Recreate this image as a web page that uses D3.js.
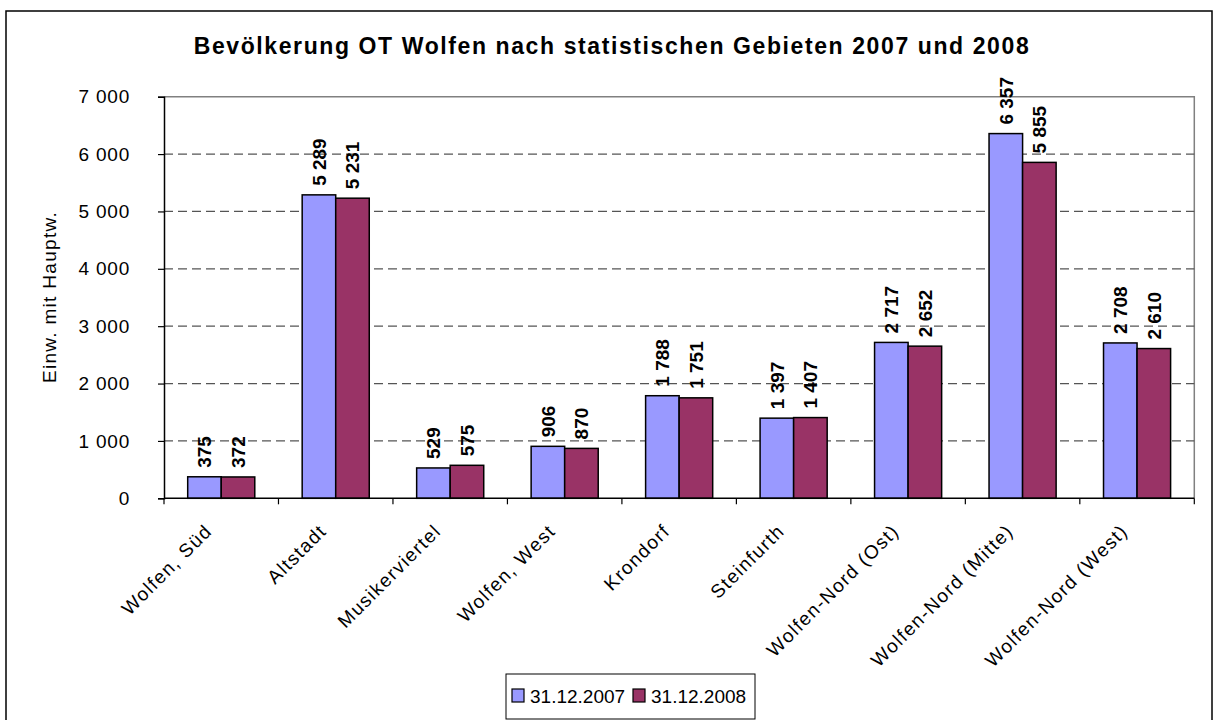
<!DOCTYPE html>
<html>
<head>
<meta charset="utf-8">
<script src="https://cdn.jsdelivr.net/npm/d3@7"></script>
<style>
  body { margin: 0; background: #fff; }
  svg { display: block; font-family: "Liberation Sans", Arial, sans-serif; }
</style>
</head>
<body>
<div id="chart"></div>
<script>
// data
var categories = ["Wolfen, Süd", "Altstadt", "Musikerviertel", "Wolfen, West", "Krondorf",
  "Steinfurth", "Wolfen-Nord (Ost)", "Wolfen-Nord (Mitte)", "Wolfen-Nord (West)"];
var seriesNames = ["31.12.2007", "31.12.2008"];
var values2007 = [375, 5289, 529, 906, 1788, 1397, 2717, 6357, 2708];
var values2008 = [372, 5231, 575, 870, 1751, 1407, 2652, 5855, 2610];
var yTicks = [0, 1000, 2000, 3000, 4000, 5000, 6000, 7000];
var title = "Bevölkerung OT Wolfen nach statistischen Gebieten 2007 und 2008";
var yTitle = "Einw. mit Hauptw.";

function drawChart() {
  var colors = ["#9999ff", "#993366"];
  var series = [values2007, values2008];

  var width = 1218, height = 720;
  var plotLeft = 164, plotRight = 1194.3, plotTop = 96.7, plotBottom = 498.3;

  var fmt = d3.formatLocale({decimal: ",", thousands: " ", grouping: [3], currency: ["", ""]}).format(",d");

  var svg = d3.select("#chart").append("svg")
    .attr("width", width)
    .attr("height", height);

  // outer frame
  svg.append("rect")
    .attr("x", 6).attr("y", 11)
    .attr("width", 1206).attr("height", 730)
    .attr("fill", "#fff")
    .attr("stroke", "#000")
    .attr("stroke-width", 1.5);

  var x0 = d3.scaleBand().domain(categories).range([plotLeft, plotRight]);
  var pad = 23.7;
  var x1 = d3.scaleBand().domain([0, 1]).range([pad, x0.bandwidth() - pad]);
  var y = d3.scaleLinear().domain([0, 7000]).range([plotBottom, plotTop]);

  // plot border (top/right) in gray
  svg.append("path")
    .attr("d", "M" + plotLeft + "," + y(7000) + "H" + plotRight + "V" + plotBottom)
    .attr("fill", "none")
    .attr("stroke", "#808080")
    .attr("stroke-width", 1.5);

  // gridlines
  svg.append("g")
    .selectAll("line")
    .data(yTicks.filter(function(d) { return d > 0 && d < 7000; }))
    .join("line")
    .attr("x1", plotLeft).attr("x2", plotRight)
    .attr("y1", function(d) { return y(d); })
    .attr("y2", function(d) { return y(d); })
    .attr("stroke", "#555")
    .attr("stroke-width", 1.2)
    .attr("stroke-dasharray", "9,5");

  // bars
  var groups = svg.append("g").selectAll("g")
    .data(categories)
    .join("g")
    .attr("transform", function(d) { return "translate(" + x0(d) + ",0)"; });

  groups.selectAll("rect")
    .data(function(d, i) { return series.map(function(s, k) { return {k: k, v: s[i]}; }); })
    .join("rect")
    .attr("x", function(d) { return x1(d.k); })
    .attr("y", function(d) { return y(d.v); })
    .attr("width", x1.bandwidth())
    .attr("height", function(d) { return y(0) - y(d.v); })
    .attr("fill", function(d) { return colors[d.k]; })
    .attr("stroke", "#000")
    .attr("stroke-width", 1.5);

  groups.selectAll("text")
    .data(function(d, i) { return series.map(function(s, k) { return {k: k, v: s[i]}; }); })
    .join("text")
    .attr("transform", function(d) {
      return "translate(" + (x1(d.k) + x1.bandwidth() / 2) + "," + (y(d.v) - 9) + ") rotate(-90)";
    })
    .attr("dy", "0.36em")
    .attr("font-size", "19px")
    .attr("font-weight", "bold")
    .attr("fill", "#000")
    .text(function(d) { return fmt(d.v); });

  // y axis
  var yAxis = d3.axisLeft(y).tickValues(yTicks).tickSize(6).tickPadding(28)
    .tickFormat(function(d) { return fmt(d); });
  var gy = svg.append("g")
    .attr("transform", "translate(" + plotLeft + ",0)")
    .call(yAxis);
  gy.select(".domain").attr("stroke", "#000").attr("stroke-width", 1.5);
  gy.selectAll(".tick line").attr("stroke", "#000").attr("stroke-width", 1.2);
  gy.selectAll(".tick text").attr("font-size", "19px").attr("fill", "#000")
    .attr("font-family", "Liberation Sans, Arial, sans-serif")
    .attr("letter-spacing", "0.8px");

  // x axis with ticks at band edges
  var gx = svg.append("g");
  gx.append("line")
    .attr("x1", plotLeft).attr("x2", plotRight)
    .attr("y1", plotBottom).attr("y2", plotBottom)
    .attr("stroke", "#000").attr("stroke-width", 1.5);
  var edges = categories.map(function(c) { return x0(c); }).concat([plotRight]);
  gx.selectAll("line.tk")
    .data(edges)
    .join("line")
    .attr("class", "tk")
    .attr("x1", function(d) { return d; }).attr("x2", function(d) { return d; })
    .attr("y1", plotBottom).attr("y2", plotBottom + 6)
    .attr("stroke", "#000").attr("stroke-width", 1.2);
  gx.selectAll("text")
    .data(categories)
    .join("text")
    .attr("transform", function(d) {
      return "translate(" + (x0(d) + x0.bandwidth() / 2 - 8) + "," + (plotBottom + 34) + ") rotate(-45)";
    })
    .attr("text-anchor", "end")
    .attr("font-size", "19px")
    .attr("letter-spacing", "1.4px")
    .attr("fill", "#000")
    .text(function(d) { return d; });

  // y title
  svg.append("text")
    .attr("transform", "translate(56,297) rotate(-90)")
    .attr("text-anchor", "middle")
    .attr("font-size", "19px")
    .attr("letter-spacing", "1.3px")
    .text(yTitle);

  // title
  svg.append("text")
    .attr("x", 612)
    .attr("y", 54)
    .attr("text-anchor", "middle")
    .attr("font-size", "23px")
    .attr("font-weight", "bold")
    .attr("letter-spacing", "1.6px")
    .text(title);

  // legend
  var legend = svg.append("g");
  legend.append("rect")
    .attr("x", 506).attr("y", 674)
    .attr("width", 249).attr("height", 45)
    .attr("fill", "#fff")
    .attr("stroke", "#000")
    .attr("stroke-width", 1);
  var legendX = [512, 633];
  seriesNames.forEach(function(name, k) {
    legend.append("rect")
      .attr("x", legendX[k]).attr("y", 689)
      .attr("width", 12).attr("height", 13)
      .attr("fill", colors[k])
      .attr("stroke", "#000")
      .attr("stroke-width", 1.2);
    legend.append("text")
      .attr("x", legendX[k] + 18)
      .attr("y", 703)
      .attr("font-size", "19px")
      .text(name);
  });
}

drawChart();
</script>
</body>
</html>
